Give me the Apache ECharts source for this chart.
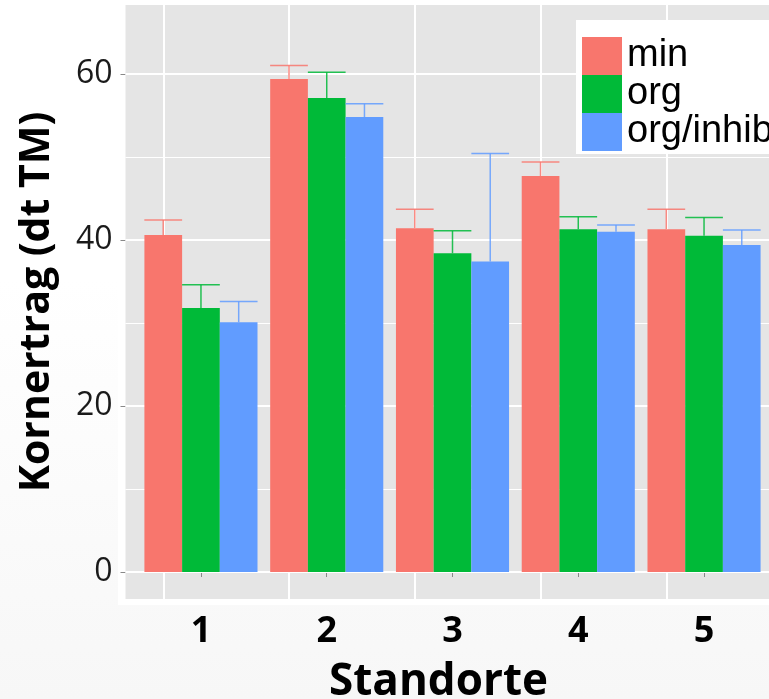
<!DOCTYPE html>
<html>
<head>
<meta charset="utf-8">
<script src="https://cdn.jsdelivr.net/npm/echarts@6/dist/echarts.min.js"></script>
<style>
html, body { margin: 0; padding: 0; }
body { background: linear-gradient(#ffffff, #ffffff 40%, #f7f7f7); }
#chart { width: 769px; height: 699px; }
</style>
</head>
<body>
<div id="chart"></div>
<script>
// Standorte 1..5
var standorte = [1, 2, 3, 4, 5];
var groups = ['min', 'org', 'org/inhib'];
var colors = ['#F8766D', '#00BA38', '#619CFF'];

// Mittelwerte (dt TM)
var minVals = [40.6, 59.4, 41.4, 47.7, 41.3];
var orgVals = [31.8, 57.1, 38.4, 41.3, 40.5];
var inhibVals = [30.1, 54.8, 37.4, 41.0, 39.4];

// obere Fehlerbalken
var minUpper = [42.4, 61.0, 43.7, 49.4, 43.7];
var orgUpper = [34.6, 60.2, 41.1, 42.8, 42.7];
var inhibUpper = [32.6, 56.4, 50.4, 41.8, 41.2];

var yTicks = [0, 20, 40, 60];
var yGrid = [0, 10, 20, 30, 40, 50, 60];

var allVals = [minVals, orgVals, inhibVals];
var allUpper = [minUpper, orgUpper, inhibUpper];
var dodge = 0.3; // Balkenbreite in x-Einheiten

var barSeries = [], errSeries = [];

groups.forEach(function(name, k) {
	var s = {
		name: name,
		type: 'bar',
		barWidth: 37.7,
		barGap: '0%',
		itemStyle: { color: colors[k] },
		z: 2,
		data: standorte.map(function(x, i) { return [x, allVals[k][i]]; })
	};
	if (k === 0) {
		//Gitterlinien
		s.markLine = {
			silent: true,
			z: 1,
			symbol: 'none',
			animation: false,
			label: { show: false },
			data: yGrid.map(function(v) {
				return { yAxis: v, lineStyle: { color: '#fff', type: 'solid', width: v % 20 === 0 ? 2 : 1.2 } };
			}).concat(standorte.map(function(x) {
				return { xAxis: x, lineStyle: { color: '#fff', type: 'solid', width: 2 } };
			}))
		};
	}
	barSeries.push(s);

	errSeries.push({
		name: name + '_err',
		type: 'custom',
		z: 3,
		renderItem: function(params, api) {
			var x = api.value(0) + (k - 1) * dodge;
			var top = api.coord([x, api.value(2)]);
			var base = api.coord([x, api.value(1)]);
			var half = api.size([dodge, 0])[0] / 2;
			var style = { stroke: colors[k], lineWidth: 1.5, opacity: 0.85 };
			return {
				type: 'group',
				children: [
					{ type: 'line', shape: { x1: top[0], y1: top[1], x2: base[0], y2: base[1] }, style: style },
					{ type: 'line', shape: { x1: top[0] - half, y1: top[1], x2: top[0] + half, y2: top[1] }, style: style }
				]
			};
		},
		data: standorte.map(function(x, i) { return [x, allVals[k][i], allUpper[k][i]]; })
	});
});

var myChart = echarts.init(document.getElementById('chart'));
var option = {
	backgroundColor: 'transparent',
	animation: false,
	graphic: [{
		type: 'rect',
		z: -10,
		shape: { x: 118, y: 0, width: 651, height: 605 },
		style: { fill: '#fff' }
	}],
	grid: {
		show: true,
		left: 125.5,
		top: 5,
		width: 654,
		height: 594,
		outerBoundsMode: 'none',
		containLabel: false,
		backgroundColor: '#E5E5E5',
		borderWidth: 0
	},
	legend: {
		data: groups,
		orient: 'vertical',
		left: 576,
		top: 20,
		padding: [17, 0, 3, 6],
		backgroundColor: '#fff',
		icon: 'rect',
		itemWidth: 40,
		itemHeight: 38,
		itemGap: 0,
		selectedMode: false,
		textStyle: {
			fontFamily: 'Liberation Sans',
			fontSize: 38,
			lineHeight: 38,
			color: '#000'
		}
	},
	xAxis: {
		type: 'value',
		min: 0.4,
		max: 5.6,
		name: 'Standorte',
		nameLocation: 'middle',
		nameGap: 61,
		nameTextStyle: {
			fontFamily: 'Open Sans',
			fontWeight: 'bold',
			fontSize: 44,
			color: '#000',
			padding: [0, 28, 0, 0]
		},
		axisLine: { show: false },
		splitLine: { show: false },
		axisTick: { show: true, customValues: standorte, length: 5, lineStyle: { color: '#888' } },
		axisLabel: {
			customValues: standorte,
			margin: 15,
			fontFamily: 'Open Sans',
			fontWeight: 'bold',
			fontSize: 36,
			color: '#000'
		}
	},
	yAxis: {
		type: 'value',
		min: -3.25,
		max: 68.3,
		name: 'Kornertrag (dt TM)',
		nameLocation: 'middle',
		nameGap: 68,
		nameTextStyle: {
			fontFamily: 'Open Sans',
			fontWeight: 'bold',
			fontSize: 41,
			color: '#000'
		},
		axisLine: { show: false },
		splitLine: { show: false },
		axisTick: { show: true, customValues: yTicks, length: 5, lineStyle: { color: '#888' } },
		axisLabel: {
			customValues: yTicks,
			margin: 13,
			fontFamily: 'Open Sans',
			fontSize: 32,
			color: '#1a1a1a'
		}
	},
	series: barSeries.concat(errSeries)
};
myChart.setOption(option);
</script>
</body>
</html>
